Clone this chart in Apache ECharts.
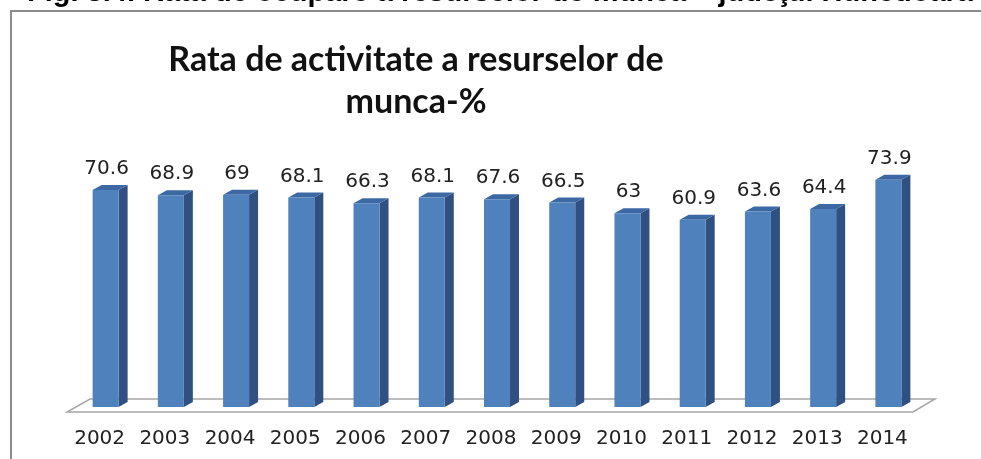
<!DOCTYPE html>
<html lang="en">
<head>
  <script src="https://cdn.jsdelivr.net/npm/echarts@6.0.0/dist/echarts.min.js"></script>
  <meta charset="UTF-8">
</head>
<body style="margin:0">
  <div id="activityChart" style="width: 981px;height:459px;"></div>

  <script type="text/javascript">

    var years = ['2002', '2003', '2004', '2005', '2006', '2007', '2008', '2009', '2010', '2011', '2012', '2013', '2014'];
    var rates = [70.6, 68.9, 69, 68.1, 66.3, 68.1, 67.6, 66.5, 63, 60.9, 63.6, 64.4, 73.9];

    function renderBar(params, api) {
        var base = api.coord([api.value(0), 0]);
        var top = api.coord([api.value(0), api.value(1)]);
        var x0 = base[0] - 7, w = 26, dx = 9, dy = 5;
        var yTop = top[1], yBot = base[1];
        return {
            type: 'group',
            children: [
                {
                    type: 'polygon',
                    shape: { points: [[x0 + w, yTop], [x0 + w + dx, yTop - dy], [x0 + w + dx, yBot - dy], [x0 + w, yBot]] },
                    style: { fill: '#2f5080' }
                },
                {
                    type: 'polygon',
                    shape: { points: [[x0, yTop], [x0 + dx, yTop - dy], [x0 + w + dx, yTop - dy], [x0 + w, yTop]] },
                    style: { fill: '#3c68a3' }
                },
                {
                    type: 'rect',
                    shape: { x: x0, y: yTop, width: w, height: yBot - yTop },
                    style: { fill: '#4f81bd' }
                },
                {
                    type: 'text',
                    style: {
                        x: x0 + w / 2 + 1, y: yTop - 21,
                        text: String(api.value(1)),
                        align: 'center', verticalAlign: 'middle',
                        fontFamily: 'DejaVu Sans', fontSize: 20, fill: '#222'
                    }
                }
            ]
        };
    }

    function createActivityChart() {
        const chart = echarts.init(document.getElementById('activityChart'));

        let option = {
            animation: false,
            backgroundColor: '#fff',
            title: {
                text: 'Rata de activitate a resurselor de\nmunca-%',
                left: 411,
                top: 34,
                textAlign: 'center',
                textStyle: {
                    fontFamily: 'Lato',
                    fontWeight: 'bold',
                    fontSize: 34,
                    lineHeight: 42,
                    color: '#111'
                }
            },
            grid: { left: 67, right: 66, top: 161, bottom: 52 },
            xAxis: {
                type: 'category',
                data: years,
                axisLine: { show: false },
                axisTick: { show: false },
                axisLabel: {
                    interval: 0,
                    hideOverlap: false,
                    fontFamily: 'DejaVu Sans',
                    fontSize: 20,
                    color: '#222',
                    margin: 22
                }
            },
            yAxis: {
                type: 'value',
                min: 0,
                max: 80,
                show: false,
                splitLine: { show: false }
            },
            graphic: [
                {
                    type: 'text',
                    x: 27, y: 7,
                    z: 10,
                    style: {
                        text: 'Fig. 3.4. Rata de ocupare a resurselor de munca \u2013 jude\u0163ul Hunedoara',
                        fontFamily: 'Liberation Sans',
                        fontWeight: 'bold',
                        fontSize: 29,
                        verticalAlign: 'bottom',
                        fill: '#000'
                    }
                },
                {
                    type: 'polyline',
                    shape: { points: [[11, 459], [11, 11], [981, 11]] },
                    style: { stroke: '#8c8c8c', lineWidth: 2, fill: null }
                },
                {
                    type: 'polygon',
                    z: 0,
                    shape: { points: [[67, 412], [913, 412], [935, 399], [90, 399]] },
                    style: { stroke: '#a6a6a6', lineWidth: 1.5, fill: '#fff' }
                }
            ],
            series: [
                {
                    type: 'custom',
                    z: 5,
                    renderItem: renderBar,
                    encode: { x: 0, y: 1 },
                    data: years.map(function (y, i) { return [i, rates[i]]; })
                }
            ]
        };

        chart.setOption(option);
    }
    createActivityChart();
  </script>
</body>
</html>
